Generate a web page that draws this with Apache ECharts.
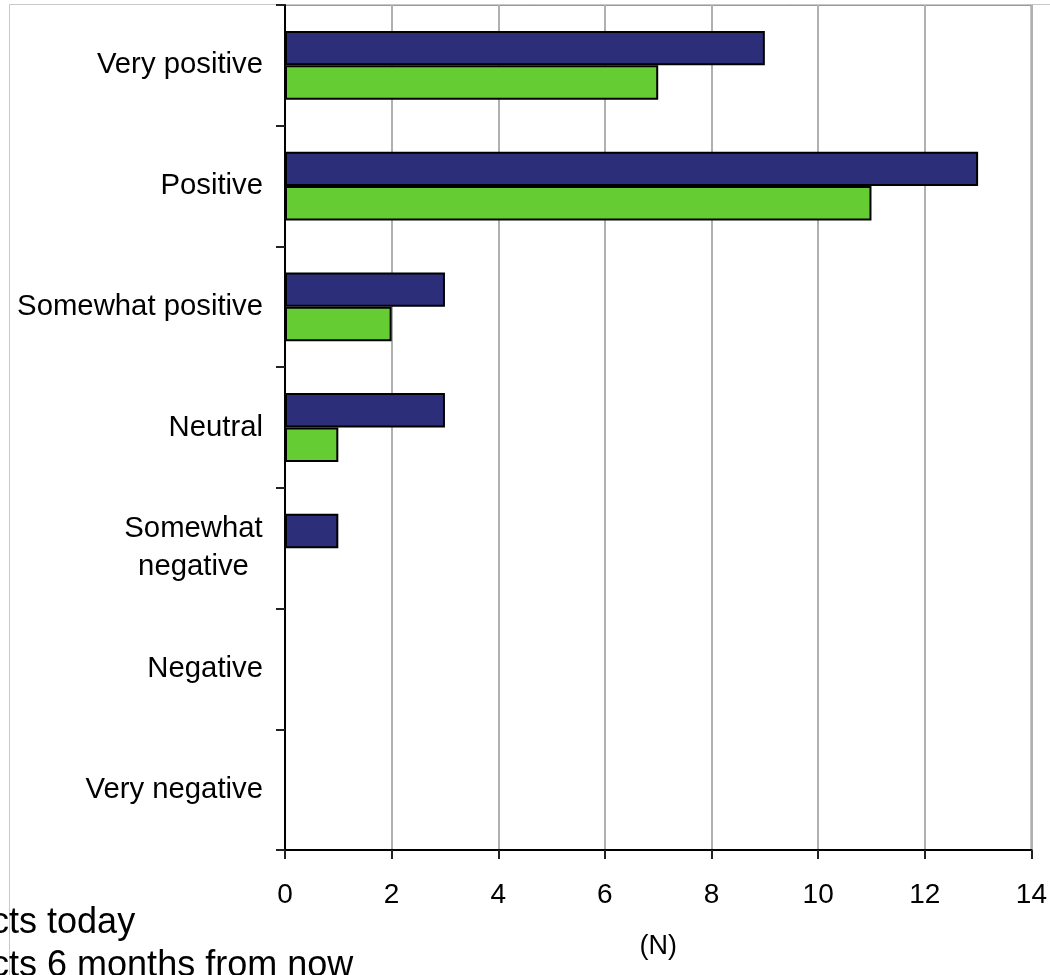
<!DOCTYPE html>
<html>
<head>
<meta charset="utf-8">
<script src="https://cdn.jsdelivr.net/npm/echarts@6/dist/echarts.min.js"></script>
<style>
html,body{margin:0;padding:0;background:#fff;}
#chart{width:1050px;height:975px;}
</style>
</head>
<body>
<div id="chart"></div>
<script>
const categories = ['Very positive', 'Positive', 'Somewhat positive', 'Neutral', 'Somewhat negative', 'Negative', 'Very negative'];
const seriesNames = ['Prospects today', 'Prospects 6 months from now'];
const todayValues = [9, 13, 3, 3, 1, 0, 0];
const futureValues = [7, 11, 2, 1, 0, 0, 0];
const xTicks = { min: 0, max: 14, interval: 2 };
const axisTitle = '(N)';

const FONT = 'Arial, "Liberation Sans", sans-serif';
const legendBase = {
  orient: 'vertical',
  left: -154,
  padding: 0,
  itemWidth: 25,
  itemHeight: 20,
  textStyle: { fontSize: 36, color: '#000', fontFamily: FONT }
};
const chart = echarts.init(document.getElementById('chart'));
chart.setOption({
  animation: false,
  backgroundColor: '#fff',
  graphic: [{
    type: 'rect', z: 0, silent: true,
    shape: { x: 9.5, y: 4.5, width: 2000, height: 2000 },
    style: { fill: 'none', stroke: '#c8c8c8', lineWidth: 1 }
  }],
  legend: [
    Object.assign({}, legendBase, { top: 905, data: [seriesNames[0]] }),
    Object.assign({}, legendBase, { top: 948, data: [seriesNames[1]] })
  ],
  grid: {
    left: 285, right: 17, top: 5, bottom: 125,
    show: true, borderColor: '#999', borderWidth: 2
  },
  xAxis: {
    type: 'value', min: xTicks.min, max: xTicks.max, interval: xTicks.interval,
    name: axisTitle, nameLocation: 'middle', nameGap: 83,
    nameTextStyle: { fontSize: 27, color: '#000', fontFamily: FONT },
    axisLine: { show: true, lineStyle: { color: '#000', width: 2 } },
    axisTick: { show: true, length: 9, lineStyle: { color: '#222', width: 2 } },
    axisLabel: { fontSize: 28, color: '#000', margin: 31, fontFamily: FONT },
    splitLine: { show: true, lineStyle: { color: '#b0b0b0', width: 2 } }
  },
  yAxis: {
    type: 'category', inverse: true, data: categories,
    axisLine: { show: true, lineStyle: { color: '#000', width: 2 } },
    axisTick: { show: true, length: 9, lineStyle: { color: '#222', width: 2 } },
    axisLabel: {
      fontSize: 29.3, color: '#000', margin: 22, fontFamily: FONT,
      formatter: function (v) {
        if (v === 'Somewhat negative') return '{c|Somewhat}\n{c|negative}';
        return v;
      },
      rich: { c: { width: 139, align: 'center', fontSize: 29.3, lineHeight: 38, fontFamily: FONT, color: '#000' } }
    },
    splitLine: { show: false }
  },
  series: [
    {
      name: seriesNames[0], type: 'bar', data: todayValues,
      barGap: '0%', barCategoryGap: '43%',
      itemStyle: { color: '#2c2e7a', borderColor: '#000', borderWidth: 2 }
    },
    {
      name: seriesNames[1], type: 'bar', data: futureValues,
      barGap: '0%', barCategoryGap: '43%',
      itemStyle: { color: '#66cc33', borderColor: '#000', borderWidth: 2 }
    }
  ]
});
</script>
</body>
</html>
